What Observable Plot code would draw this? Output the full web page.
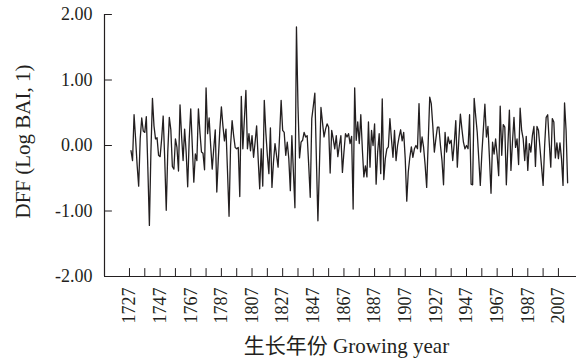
<!DOCTYPE html>
<html>
<head>
<meta charset="utf-8">
<script src="https://cdn.jsdelivr.net/npm/d3@7"></script>
<script src="https://cdn.jsdelivr.net/npm/@observablehq/plot@0.6"></script>
<style>
  html, body { margin: 0; padding: 0; background: #fff; }
</style>
</head>
<body>
<div id="chart"></div>
<script>
// First year of the series
const startYear = 1728;
// DFF (Log BAI, 1) values, one per year from 1728
const dffValues = [
  -0.08, -0.23, 0.47, 0.10, -0.30, -0.62, 0.10, 0.42, 0.22, 0.20,   // 1728-1737
  0.44, -0.35, -1.22, -0.10, 0.72, 0.30, 0.10, 0.12, -0.15, -0.17,  // 1738-1747
  0.10, 0.45, -0.20, -0.99, -0.10, 0.43, 0.24, -0.32, -0.36, 0.10,  // 1748-1757
  -0.03, -0.39, 0.62, 0.15, -0.23, 0.25, -0.10, -0.63, 0.10, 0.56,  // 1758-1767
  0.00, -0.56, -0.13, -0.23, 0.56, 0.20, -0.10, -0.12, -0.37, 0.88, // 1768-1777
  0.18, 0.42, 0.00, -0.36, -0.05, 0.24, -0.71, -0.20, 0.25, 0.59,   // 1778-1787
  0.30, 0.07, 0.25, -0.40, -1.08, 0.00, 0.38, 0.15, -0.03, -0.05,   // 1788-1797
  -0.03, -0.78, 0.75, -0.05, 0.40, 0.84, -0.05, 0.18, -0.08, 0.15,  // 1798-1807
  -0.18, 0.05, 0.30, -0.20, -0.66, -0.05, -0.62, 0.69, 0.20, -0.15, // 1808-1817
  -0.43, 0.27, -0.64, -0.25, 0.03, -0.15, -0.33, 0.15, 0.69, 0.23,  // 1818-1827
  0.20, -0.15, 0.05, -0.20, -0.69, 0.15, -0.40, -0.95, 1.81, 0.60,  // 1828-1837
  -0.19, 0.05, 0.08, 0.20, 0.13, 0.15, -0.30, -0.79, 0.41, 0.60,    // 1838-1847
  0.80, -0.20, -1.15, -0.30, 0.58, 0.35, 0.13, 0.25, 0.33, 0.28,    // 1848-1857
  -0.42, 0.23, 0.10, -0.05, 0.15, -0.17, 0.00, 0.15, -0.41, -0.10,  // 1858-1867
  0.18, 0.13, 0.18, 0.03, 0.14, -0.97, 0.88, 0.08, 0.36, 0.03,      // 1868-1877
  0.47, -0.05, -0.48, -0.31, -0.48, 0.36, -0.33, 0.23, 0.00, 0.33,  // 1878-1887
  -0.59, -0.10, 0.18, -0.43, 0.71, -0.52, -0.20, -0.05, -0.02, 0.41,// 1888-1897
  0.10, -0.18, 0.23, -0.23, 0.00, 0.13, 0.24, 0.07, 0.20, -0.20,    // 1898-1907
  -0.85, -0.40, -0.18, -0.02, -0.18, -0.05, 0.00, -0.05, 0.64, -0.10, // 1908-1917
  0.13, -0.03, -0.30, -0.64, 0.05, 0.74, 0.64, 0.30, -0.10, 0.10,   // 1918-1927
  0.28, 0.28, 0.00, -0.23, -0.60, 0.20, -0.10, 0.13, 0.03, 0.08,    // 1928-1937
  -0.23, 0.03, 0.38, -0.33, 0.10, 0.48, 0.25, 0.05, -0.05, 0.00,    // 1938-1947
  -0.05, 0.47, -0.59, -0.60, 0.72, 0.45, 0.20, -0.20, -0.61, -0.13, // 1948-1957
  0.25, 0.63, 0.13, 0.29, -0.20, -0.73, 0.05, -0.13, 0.10, -0.15,   // 1958-1967
  -0.46, 0.60, -0.15, 0.32, 0.28, -0.60, 0.00, 0.54, -0.38, 0.05,   // 1968-1977
  0.43, -0.03, 0.10, -0.29, 0.57, 0.23, 0.10, -0.23, 0.14, -0.38,   // 1978-1987
  0.03, -0.10, 0.15, 0.29, -0.32, 0.29, 0.23, -0.05, -0.33, -0.61,  // 1988-1997
  0.00, 0.43, 0.47, 0.05, -0.33, 0.41, 0.36, -0.19, 0.04, -0.20,    // 1998-2007
  0.04, -0.20, -0.61, 0.65, 0.23, -0.57                             // 2008-2013
];
// Axis ticks
const xMinorTicks = [1727,1737,1747,1757,1767,1777,1787,1797,1807,1817,1827,1837,1847,1857,1867,
                     1877,1887,1897,1907,1917,1927,1937,1947,1957,1967,1977,1987,1997,2007];
const xTickLabels = [1727,1747,1767,1787,1807,1827,1847,1867,1887,1907,1927,1947,1967,1987,2007];
const yTicks = [-2, -1, 0, 1, 2];
const yLabel = "DFF (Log BAI, 1)";
const xLabel = "生长年份 Growing year";

const data = dffValues.map((v, i) => ({year: startYear + i, value: v}));

const ink = "#231f20";
const xDomain = [1710.7, 2018.8];
const lineShape = {draw(context, l) { context.moveTo(0, 0); context.lineTo(0, -l); }};

const chart = Plot.plot({
  width: 588,
  height: 358,
  marginLeft: 104,
  marginRight: 12,
  marginTop: 14,
  marginBottom: 82,
  style: {fontFamily: "'Liberation Serif', 'Noto Sans CJK SC', serif", fontSize: "18px", color: ink, background: "#fff"},
  x: {domain: xDomain, ticks: xTickLabels, tickFormat: d => String(d), tickSize: 0, tickRotate: -90, tickPadding: 11, label: null},
  y: {domain: [-2, 2], ticks: yTicks, tickFormat: d => d.toFixed(2), tickSize: 0, tickPadding: 12, label: null},
  marks: [
    Plot.ruleY([-2], {stroke: ink, strokeWidth: 1.2}),
    Plot.ruleX([xDomain[0]], {stroke: ink, strokeWidth: 1.2}),
    Plot.vector(yTicks, {y: d => d, frameAnchor: "left", rotate: 90, length: 7, anchor: "start", shape: lineShape, stroke: ink, strokeWidth: 1}),
    Plot.vector(xMinorTicks, {x: d => d, frameAnchor: "bottom", rotate: 0, length: 8, anchor: "start", shape: lineShape, stroke: ink, strokeWidth: 1}),
    Plot.line(data, {x: "year", y: "value", stroke: ink, strokeWidth: 1.3}),
    Plot.text([yLabel], {frameAnchor: "left", dx: -81, dy: -4, rotate: -90, textAnchor: "middle", lineAnchor: "middle", fontSize: 21, fill: ink, text: d => d}),
    Plot.text([xLabel], {frameAnchor: "bottom", dx: 6, dy: 70, textAnchor: "middle", lineAnchor: "middle", fontSize: 21, fill: ink, text: d => d})
  ]
});
document.getElementById("chart").appendChild(chart);
</script>
</body>
</html>
